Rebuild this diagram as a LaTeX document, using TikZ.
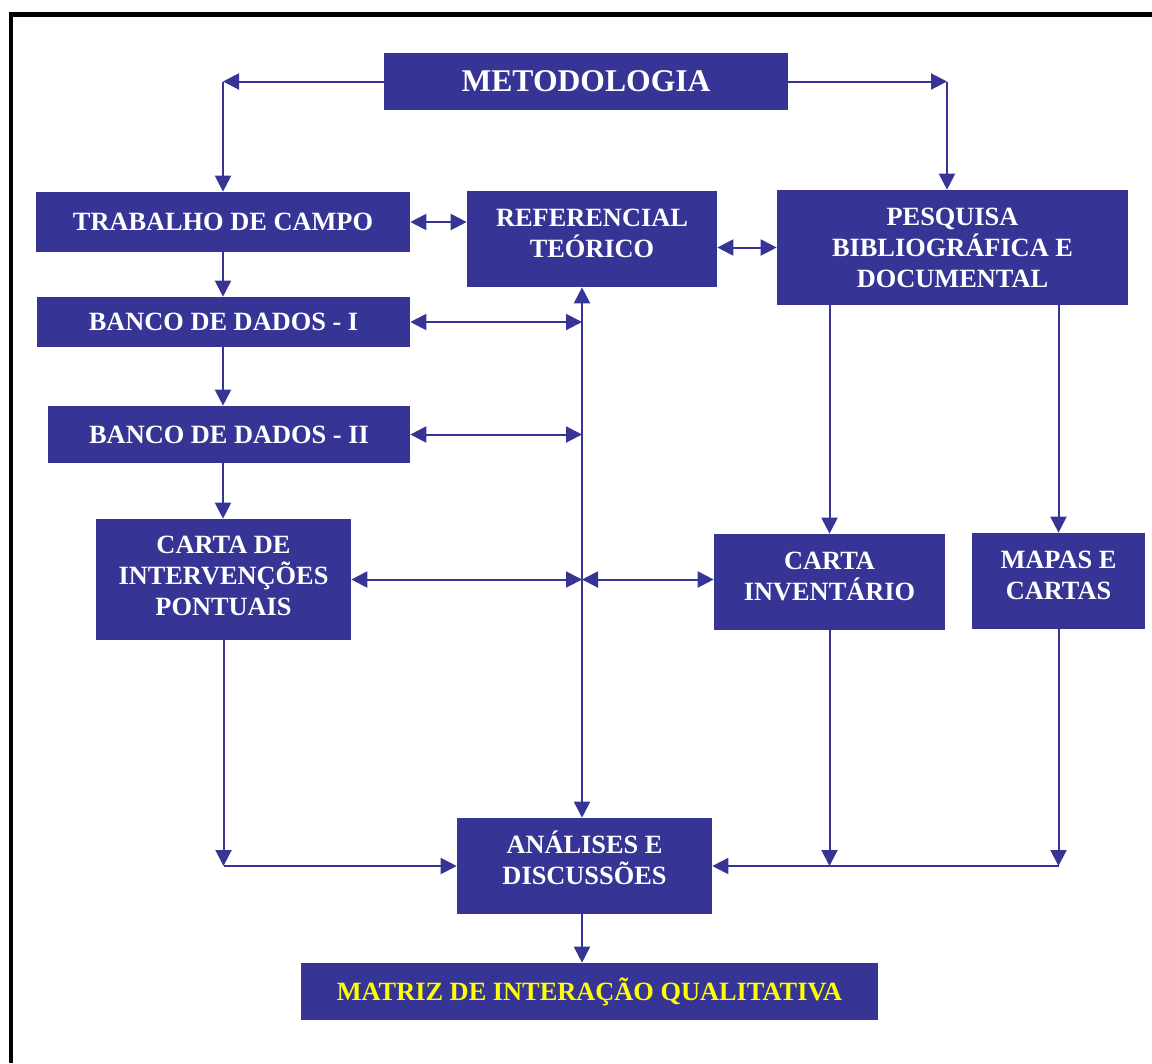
\documentclass[tikz,border=0pt]{standalone}
\usepackage{fontspec}
\setmainfont{Liberation Serif}
\usetikzlibrary{arrows.meta}
\definecolor{azul}{RGB}{54,53,150}
\definecolor{amarelo}{RGB}{255,255,0}
\tikzset{
  caixa/.style={fill=azul, text=white, font=\bfseries\fontsize{15}{17.6}\selectfont,
    align=center, inner sep=0pt},
  liga/.style={draw=azul, line width=0.04cm},
  >={Triangle[length=0.32cm, width=0.32cm]}
}
\begin{document}
\begin{tikzpicture}[x=0.02cm, y=-0.02cm]
    \useasboundingbox (0,0) rectangle (1152,1063);
    % Moldura
    \draw[line width=0.09cm] (11,1063) -- (11,14.3) -- (1152,14.3);

    % Caixas
    \node[caixa, minimum width=8.08cm, minimum height=1.14cm, font=\bfseries\fontsize{18}{21}\selectfont]
        (meto) at (586,81.5) {METODOLOGIA};
    \node[caixa, minimum width=7.48cm, minimum height=1.2cm] (trab) at (223,222) {TRABALHO DE CAMPO};
    \node[caixa, minimum width=5.0cm, minimum height=1.92cm, text depth=0.24cm] (ref) at (592,239)
        {REFERENCIAL\\TEÓRICO};
    \node[caixa, minimum width=7.02cm, minimum height=2.3cm] (pesq) at (952.5,247.5)
        {PESQUISA\\BIBLIOGRÁFICA E\\DOCUMENTAL};
    \node[caixa, minimum width=7.46cm, minimum height=1.0cm] (banco1) at (223.5,322) {BANCO DE DADOS - I};
    \node[caixa, minimum width=7.24cm, minimum height=1.14cm] (banco2) at (229,434.5) {BANCO DE DADOS - II};
    \node[caixa, minimum width=5.1cm, minimum height=2.42cm, text depth=0.16cm] (cartaint) at (223.5,579.5)
        {CARTA DE\\INTERVENÇÕES\\PONTUAIS};
    \node[caixa, minimum width=4.62cm, minimum height=1.92cm, text depth=0.24cm] (cartainv) at (829.5,582)
        {CARTA\\INVENTÁRIO};
    \node[caixa, minimum width=3.46cm, minimum height=1.92cm, text depth=0.24cm] (mapas) at (1058.5,581)
        {MAPAS E\\CARTAS};
    \node[caixa, minimum width=5.1cm, minimum height=1.92cm, text depth=0.34cm] (anal) at (584.5,866)
        {ANÁLISES E\\DISCUSSÕES};
    \node[caixa, text=amarelo, minimum width=11.54cm, minimum height=1.14cm] (matriz) at (589.5,991.5)
        {MATRIZ DE INTERAÇÃO QUALITATIVA};

    % Pontos de desvio
    \coordinate (c1) at (223,81.5);
    \coordinate (c2) at (947,81.5);
    \coordinate (eixo) at (582,866);
    \coordinate (c3) at (cartaint.south |- anal.west);
    \coordinate (c4) at (cartainv.south |- anal.east);
    \coordinate (c5) at (mapas.south |- anal.east);

    % Metodologia
    \draw[liga, ->] (meto.west) -- (c1);
    \draw[liga, ->] (c1) -- (trab.north -| c1);
    \draw[liga, ->] (meto.east) -- (c2);
    \draw[liga, ->] (c2) -- (c2 |- pesq.north);

    % Ligacoes horizontais
    \draw[liga, <->] (trab.east) -- (ref.west |- trab.east);
    \draw[liga, <->] (ref.east |- pesq.west) -- (pesq.west);

    % Coluna da esquerda
    \draw[liga, ->] (trab.south -| c1) -- (banco1.north -| c1);
    \draw[liga, ->] (banco1.south -| c1) -- (banco2.north -| c1);
    \draw[liga, ->] (banco2.south -| c1) -- (cartaint.north -| c1);

    % Eixo central
    \draw[liga, <->] (ref.south -| eixo) -- (anal.north -| eixo);
    \draw[liga, <->] (banco1.east) -- (banco1.east -| eixo);
    \draw[liga, <->] (banco2.east) -- (banco2.east -| eixo);
    \draw[liga, <->] (cartaint.east) -- (cartaint.east -| eixo);
    \draw[liga, <->] (cartaint.east -| eixo) -- (cartainv.west |- cartaint.east);

    % Pesquisa
    \draw[liga, ->] (pesq.south -| cartainv.north) -- (cartainv.north);
    \draw[liga, ->] (pesq.south -| mapas.north) -- (mapas.north);

    % Para analises
    \draw[liga, ->] (cartaint.south) -- (c3);
    \draw[liga, ->] (c3) -- (anal.west);
    \draw[liga, ->] (cartainv.south) -- (c4);
    \draw[liga, ->] (mapas.south) -- (c5);
    \draw[liga, ->] (c5) -- (anal.east);
    \draw[liga, ->] (anal.south -| eixo) -- (matriz.north -| eixo);
\end{tikzpicture}
\end{document}
